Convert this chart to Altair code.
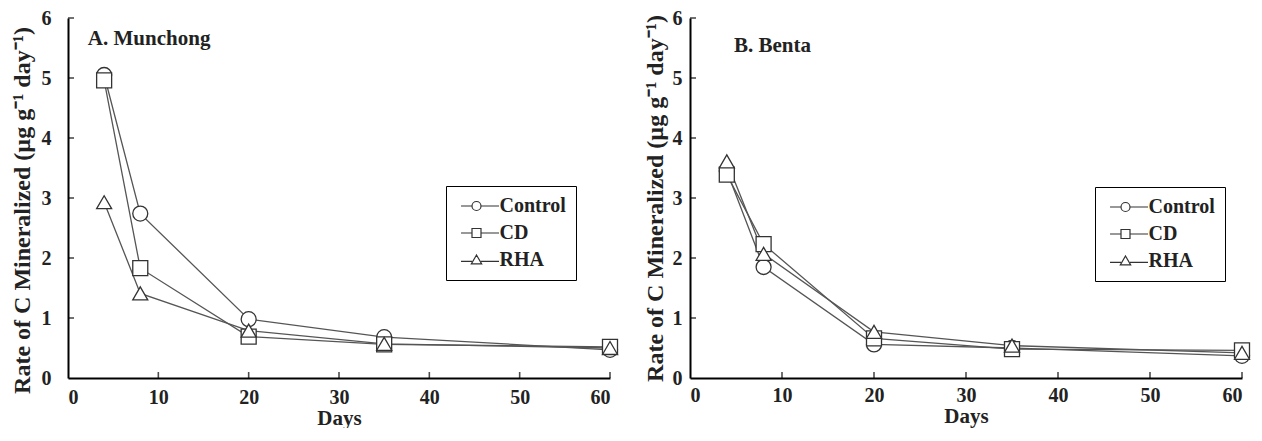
import altair as alt
import pandas as pd

# ---------------- data ----------------
days = [4, 8, 20, 35, 60]
series = ["Control", "CD", "RHA"]

munchong_control = [5.05, 2.74, 0.98, 0.68, 0.47]
munchong_cd = [4.96, 1.83, 0.69, 0.56, 0.52]
munchong_rha = [2.93, 1.41, 0.79, 0.57, 0.50]

benta_control = [3.45, 1.85, 0.56, 0.50, 0.37]
benta_cd = [3.39, 2.23, 0.66, 0.48, 0.46]
benta_rha = [3.61, 2.07, 0.77, 0.54, 0.42]

x_tick_values = [0, 10, 20, 30, 40, 50, 60]
y_tick_values = [0, 1, 2, 3, 4, 5, 6]
x_inner_ticks = [10, 20, 30, 40, 50, 60]
y_inner_ticks = [1, 2, 3, 4, 5, 6]

y_title = "Rate of C Mineralized (µg g\u207b\u00b9 day\u207b\u00b9)"

FONT = "Liberation Serif"
TXT = "#222222"
LINE = "#555555"
MARK = "#333333"

legend_paths = [
    "M-3.44,0L-1,0M1,0L5,0M1,0A1,1,0,1,1,-1,0A1,1,0,1,1,1,0Z",
    "M-3.44,0L-1,0M1,0L5,0M-1,-1L1,-1L1,1L-1,1Z",
    "M-3.44,0.3L-1,0.3M1,0.3L5,0.3M0,-1.1L1.15,0.85L-1.15,0.85Z",
]


def frame(vals_by_series):
    rows = []
    for s, vals in zip(series, vals_by_series):
        for d, v in zip(days, vals):
            rows.append({"Days": d, "Rate": v, "Treatment": s})
    return pd.DataFrame(rows)


def panel(df, label, label_x, label_y, width, height,
          ylab_pad, ytitle_pad, ytitle_y, xlab_pad, xtitle_pad, leg_x, leg_y):
    xe = alt.X("Days:Q", scale=alt.Scale(domain=[0, 60], nice=False),
               axis=alt.Axis(values=x_tick_values, title="Days", ticks=False,
                             grid=False, labelPadding=xlab_pad,
                             titlePadding=xtitle_pad, format="d"))
    ye = alt.Y("Rate:Q", scale=alt.Scale(domain=[0, 6], nice=False),
               axis=alt.Axis(values=y_tick_values, title=y_title, ticks=False,
                             grid=False, labelPadding=ylab_pad,
                             titlePadding=ytitle_pad, format="d",
                             titleFontSize=24, titleY=ytitle_y))
    base = alt.Chart(df)
    lines = base.mark_line(color=LINE, strokeWidth=1.3).encode(
        x=xe, y=ye, detail="Treatment:N")
    points = base.mark_point(filled=True, fill="white", stroke=MARK,
                             strokeWidth=1.3, size=225, opacity=1).encode(
        x=xe, y=ye,
        shape=alt.Shape("Treatment:N",
                        scale=alt.Scale(domain=series,
                                        range=["circle", "square", "triangle-up"]),
                        legend=None))
    legend_layer = base.transform_filter("false").mark_point(
        filled=False, color=MARK, strokeWidth=1.2, opacity=1, size=81
    ).encode(
        x=xe, y=ye,
        shape=alt.Shape("Treatment:N",
                        scale=alt.Scale(domain=series, range=legend_paths),
                        legend=alt.Legend(
                            title=None, orient="none", legendX=leg_x, legendY=leg_y,
                            strokeColor="black", fillColor="white", padding=10,
                            symbolSize=81, symbolOffset=10.5, labelOffset=13,
                            symbolStrokeColor=MARK, symbolStrokeWidth=1.2,
                            symbolOpacity=1, rowPadding=7,
                            labelExpr="datum.label + ' '",
                            labelFont=FONT, labelFontSize=20, labelFontWeight="bold",
                            labelColor=TXT)))
    xt = alt.Chart(pd.DataFrame({"Days": x_inner_ticks})).mark_tick(
        orient="vertical", size=6, thickness=1.6, color="black", yOffset=-3
    ).encode(x=xe, y=alt.datum(0))
    yt = alt.Chart(pd.DataFrame({"Rate": y_inner_ticks})).mark_tick(
        orient="horizontal", size=6, thickness=1.6, color="black", xOffset=3
    ).encode(y=ye, x=alt.datum(0))
    title = alt.Chart(pd.DataFrame({"t": [label]})).mark_text(
        align="left", baseline="middle", font=FONT, fontSize=21,
        fontWeight="bold", color=TXT
    ).encode(x=alt.datum(label_x), y=alt.datum(label_y), text="t:N")
    return alt.layer(lines, points, legend_layer, xt, yt, title).resolve_scale(
        shape="independent").properties(width=width, height=height)


left = panel(frame([munchong_control, munchong_cd, munchong_rha]),
             "A. Munchong", 2.2, 5.65, 542, 360,
             17, 7, 192, 9, 0, 378, 168)
right = panel(frame([benta_control, benta_cd, benta_rha]),
              "B. Benta", 4.77, 5.53, 552, 360,
              8, 5, 180, 7, 0, 405, 169)

chart = alt.hconcat(left, right, spacing=22).properties(
    padding={"left": 2, "top": 0, "right": 0, "bottom": 0}
).configure_view(stroke=None).configure_axis(
    domainColor="black", domainWidth=2,
    labelFont=FONT, labelFontSize=20, labelFontWeight="bold", labelColor=TXT,
    titleFont=FONT, titleFontSize=21, titleFontWeight="bold", titleColor=TXT,
)

chart.save("out.html", embed_options={"renderer": "svg", "actions": False})
